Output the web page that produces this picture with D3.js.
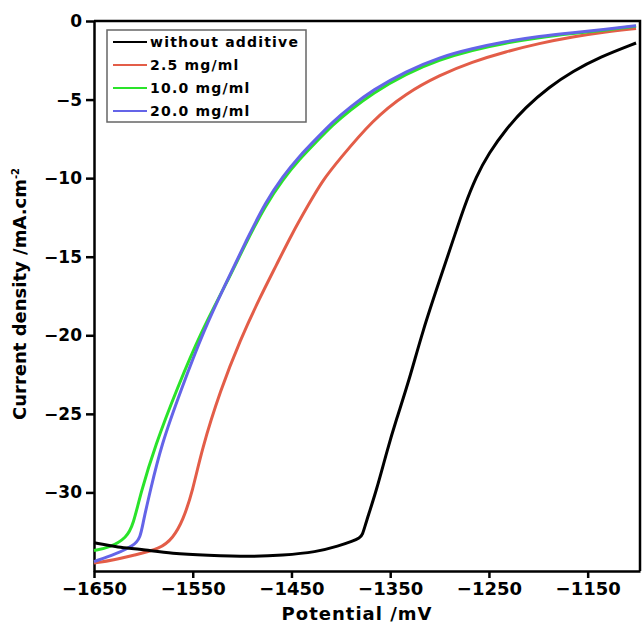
<!DOCTYPE html>
<html>
<head>
<meta charset="utf-8">
<script src="https://cdn.jsdelivr.net/npm/d3@7"></script>
<style>
  body { margin: 0; background: #fff; }
  text { font-family: "DejaVu Sans", Verdana, sans-serif; font-weight: bold; }
</style>
</head>
<body>
<div id="chart"></div>
<script>
const width = 644;
const height = 625;

// series: potential (mV) / current density (mA.cm-2)
const blankPotential = [-1650, -1625, -1604, -1570, -1536, -1492, -1459, -1425, -1402, -1388, -1381, -1378, -1375, -1364, -1353, -1344, -1331, -1317, -1300, -1285, -1275, -1263, -1250, -1233, -1213, -1189, -1165, -1138, -1101];
const blankCurrent   = [-33.2, -33.5, -33.6, -33.9, -34.0, -34.1, -34.0, -33.8, -33.4, -33.1, -32.9, -32.7, -32.0, -29.9, -27.3, -25.4, -22.9, -19.7, -16.5, -13.7, -11.8, -9.9, -8.4, -6.9, -5.5, -4.2, -3.2, -2.3, -1.4];

const lowPotential = [-1650, -1630, -1610, -1583, -1570, -1560, -1550, -1541, -1522, -1502, -1482, -1465, -1450, -1432, -1418, -1402, -1368, -1334, -1300, -1267, -1233, -1199, -1165, -1131, -1101];
const lowCurrent   = [-34.5, -34.3, -34.0, -33.6, -32.9, -31.8, -29.9, -27.3, -23.5, -20.3, -17.6, -15.5, -13.6, -11.6, -10.1, -8.85, -6.3, -4.6, -3.44, -2.6, -1.95, -1.42, -1.0, -0.68, -0.47];

const midPotential = [-1650, -1634, -1617, -1610, -1603, -1588, -1566, -1541, -1515, -1496, -1476, -1459, -1442, -1425, -1408, -1391, -1368, -1334, -1300, -1267, -1233, -1199, -1165, -1131, -1101];
const midCurrent   = [-33.7, -33.5, -32.9, -32.0, -30.1, -27.0, -23.4, -19.7, -16.6, -14.1, -11.7, -10.1, -8.8, -7.7, -6.6, -5.7, -4.6, -3.35, -2.45, -1.85, -1.4, -1.05, -0.8, -0.57, -0.33];

const highPotential = [-1650, -1627, -1610, -1603, -1600, -1593, -1582, -1562, -1539, -1515, -1496, -1476, -1459, -1442, -1425, -1408, -1391, -1368, -1334, -1300, -1267, -1233, -1199, -1165, -1131, -1101];
const highCurrent   = [-34.4, -33.9, -33.4, -32.9, -31.8, -29.9, -27.0, -23.5, -19.7, -16.5, -14.0, -11.5, -9.9, -8.6, -7.5, -6.4, -5.5, -4.4, -3.2, -2.3, -1.75, -1.3, -0.97, -0.74, -0.52, -0.3];

const seriesNames = ["without additive", "2.5 mg/ml", "10.0 mg/ml", "20.0 mg/ml"];
const seriesColors = ["#000000", "#e35d48", "#2ae32a", "#6464e8"];

const xTicks = [-1650, -1550, -1450, -1350, -1250, -1150];
const yTicks = [0, -5, -10, -15, -20, -25, -30];

const margin = { left: 94, right: 4, top: 21, bottom: 54 };

const x = d3.scaleLinear().domain([-1650, -1097]).range([margin.left, width - margin.right]);
const y = d3.scaleLinear().domain([-35, 0]).range([height - margin.bottom, margin.top]);

const svg = d3.select("#chart").append("svg").attr("width", width).attr("height", height);

const series = [
    { p: blankPotential, c: blankCurrent },
    { p: lowPotential, c: lowCurrent },
    { p: midPotential, c: midCurrent },
    { p: highPotential, c: highCurrent }
].map((s, i) => ({
    name: seriesNames[i],
    color: seriesColors[i],
    values: s.p.map((p, j) => [p, s.c[j]])
}));

drawAxes();
drawLines();
drawLegend();

function drawAxes() {
    const fmt = d3.format("d");

    const xAxis = svg.append("g")
        .attr("transform", `translate(0,${y(-35)})`)
        .call(d3.axisBottom(x).tickValues(xTicks).tickFormat(fmt).tickSize(7).tickPadding(4).tickSizeOuter(0));
    xAxis.selectAll("text").style("font-size", "18px").attr("fill", "#000");

    const yAxis = svg.append("g")
        .attr("transform", `translate(${x(-1650)},0)`)
        .call(d3.axisLeft(y).tickValues(yTicks).tickFormat(fmt).tickSize(8).tickPadding(4).tickSizeOuter(0));
    yAxis.selectAll("text").style("font-size", "17px").attr("fill", "#000");

    svg.selectAll(".domain, .tick line").attr("stroke", "#000").attr("stroke-width", 2.5);

    // top and right frame
    svg.append("path")
        .attr("d", `M${x(-1650)},${y(0)}H${x(-1097)}V${y(-35)}`)
        .attr("fill", "none")
        .attr("stroke", "#000")
        .attr("stroke-width", 2.5);

    svg.append("text")
        .attr("x", 357)
        .attr("y", 620)
        .attr("text-anchor", "middle")
        .style("font-size", "18px")
        .style("letter-spacing", "1px")
        .text("Potential /mV");

    const yl = svg.append("text")
        .attr("transform", "translate(26,294) rotate(-90)")
        .attr("text-anchor", "middle")
        .style("font-size", "18px");
    yl.append("tspan").text("Current density /mA.cm");
    yl.append("tspan").attr("dy", -7).style("font-size", "10px").text("-2");
}

function drawLines() {
    const line = d3.line()
        .x(d => x(d[0]))
        .y(d => y(d[1]))
        .curve(d3.curveBasis);

    // black drawn last so it sits over the coloured curves where they cross
    const order = [1, 2, 3, 0];
    order.forEach(i => {
        svg.append("path")
            .datum(series[i].values)
            .attr("d", line)
            .attr("fill", "none")
            .attr("stroke", series[i].color)
            .attr("stroke-width", 3)
            .attr("stroke-linejoin", "round");
    });
}

function drawLegend() {
    const g = svg.append("g").attr("transform", "translate(107,30)");

    g.append("rect")
        .attr("width", 199)
        .attr("height", 92)
        .attr("fill", "#fff")
        .attr("stroke", "#666")
        .attr("stroke-width", 1.5);

    series.forEach((s, i) => {
        const row = g.append("g").attr("transform", `translate(0,${12 + i * 23})`);
        row.append("line")
            .attr("x1", 6).attr("x2", 40)
            .attr("stroke", s.color)
            .attr("stroke-width", 2);
        row.append("text")
            .attr("x", 43)
            .attr("dy", "0.36em")
            .style("font-size", "14px")
            .style("letter-spacing", "1.2px")
            .text(s.name);
    });
}
</script>
</body>
</html>
